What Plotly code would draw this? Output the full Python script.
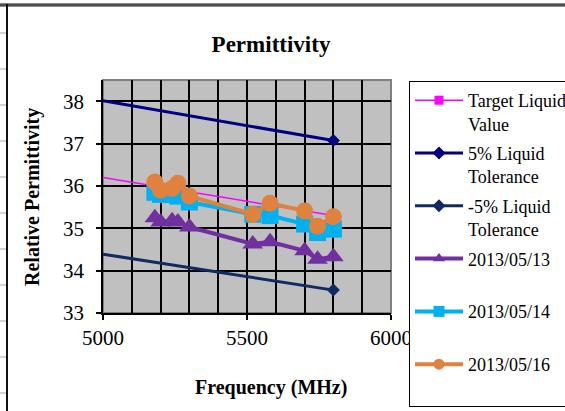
import plotly.graph_objects as go

# Reference lines (target value and +/-5% tolerance)
ref_freq = [5000, 5800]
target = [36.2, 35.3]
tol_plus = [38.01, 37.07]
tol_minus = [34.39, 33.54]

# Measured relative permittivity
freq = [5180, 5200, 5240, 5260, 5300, 5520, 5580, 5700, 5745, 5800]
eps_0513 = [35.25, 35.15, 35.18, 35.15, 35.03, 34.63, 34.68, 34.47, 34.27, 34.33]
eps_0514 = [35.85, 35.80, 35.80, 35.76, 35.62, 35.33, 35.30, 35.10, 34.90, 34.98]
eps_0516 = [36.09, 35.90, 35.94, 36.06, 35.76, 35.33, 35.59, 35.41, 35.05, 35.27]

x_ticks = [5000, 5500, 6000]
y_ticks = [33, 34, 35, 36, 37, 38]

SERIF = "Liberation Serif"
W, H = 565, 411
L, R, T, B = 103, 174, 80, 98
PW, PH = W - L - R, H - T - B


def px(x):
    return (x - L) / PW


def py(y):
    return (H - B - y) / PH


def ref_trace(y, name, color, symbol, width, size):
    # marker only on the last point; legend keeps the plain marker style
    return go.Scatter(
        x=ref_freq, y=y, name=name, mode="lines+markers",
        line=dict(color=color, width=width),
        marker=dict(symbol=symbol, size=size, color=color),
        selectedpoints=[len(ref_freq) - 1],
        selected=dict(marker=dict(opacity=1)),
        unselected=dict(marker=dict(opacity=0)),
    )


def data_trace(y, name, color, symbol, size):
    # smaller symbol in the legend, full-size symbol on the points
    return go.Scatter(
        x=freq, y=y, name=name, mode="lines+markers",
        line=dict(color=color, width=4),
        marker=dict(symbol=symbol, size=11, color=color),
        selectedpoints=list(range(len(freq))),
        selected=dict(marker=dict(size=size, opacity=1)),
    )


fig = go.Figure()
fig.add_trace(ref_trace(target, "Target Liquid<br>Value", "#FF00FF", "square", 1.5, 9))
fig.add_trace(ref_trace(tol_plus, "5% Liquid<br>Tolerance", "#000080", "diamond", 3, 10))
fig.add_trace(ref_trace(tol_minus, "-5% Liquid<br>Tolerance", "#102A63", "diamond", 3, 10))
fig.add_trace(data_trace(eps_0513, "2013/05/13<br> ", "#7030A0", "triangle-up", 18))
fig.add_trace(data_trace(eps_0514, "2013/05/14<br> ", "#00B0F0", "square", 17))
fig.add_trace(data_trace(eps_0516, "2013/05/16<br> ", "#E0823D", "circle", 17))

for i, tr in enumerate(fig.data):
    tr.legendgroup = f"g{i}"

fig.update_xaxes(
    range=[5000, 6000], tickvals=x_ticks, ticks="outside", ticklen=5,
    tickcolor="black", tickwidth=1.5,
    showline=True, linecolor="black", linewidth=1.5,
    showgrid=True, gridcolor="black", gridwidth=1.5,
    minor=dict(dtick=100, showgrid=True, gridcolor="black", gridwidth=1.5),
    tickfont=dict(family=SERIF, size=21, color="black"),
    zeroline=False,
)
fig.update_yaxes(
    range=[33, 38.5], tickvals=y_ticks, ticks="outside", ticklen=5,
    tickcolor="black", tickwidth=1.5,
    showline=True, linecolor="black", linewidth=1.5,
    showgrid=True, gridcolor="black", gridwidth=1.5,
    tickfont=dict(family=SERIF, size=21, color="black"),
    ticklabelstandoff=8,
    zeroline=False,
)

shapes = [
    # plot-area border (top and right in grey)
    dict(type="rect", xref="paper", yref="paper", x0=0, x1=1, y0=0, y1=1,
         line=dict(color="#808080", width=2), layer="below"),
    # chart frame
    dict(type="line", xref="paper", yref="paper", x0=px(0), x1=px(W),
         y0=py(5), y1=py(5), line=dict(color="#111111", width=3)),
    dict(type="line", xref="paper", yref="paper", x0=px(0), x1=px(W),
         y0=py(5), y1=py(5), line=dict(color="#909090", width=1)),
    dict(type="line", xref="paper", yref="paper", x0=px(7), x1=px(7),
         y0=py(4), y1=py(H), line=dict(color="#111111", width=2)),
]
for yy in range(33, H, 36):
    shapes.append(dict(type="line", xref="paper", yref="paper",
                       x0=px(0), x1=px(6), y0=py(yy), y1=py(yy),
                       line=dict(color="#D4D4D4", width=2)))

annotations = [
    dict(text="<b>Frequency (MHz)</b>", xref="paper", yref="paper",
         x=px(271), y=py(387), xanchor="center", yanchor="middle",
         showarrow=False, font=dict(family=SERIF, size=20, color="black")),
    dict(text="<b>Relative Permittivity</b>", xref="paper", yref="paper",
         x=px(32), y=py(197), xanchor="center", yanchor="middle", textangle=-90,
         showarrow=False, font=dict(family=SERIF, size=20, color="black")),
]

fig.update_layout(
    width=W, height=H,
    margin=dict(l=L, r=R, t=T, b=B, autoexpand=False),
    paper_bgcolor="white", plot_bgcolor="#C0C0C0",
    title=dict(text="<b>Permittivity</b>", x=px(271), xref="paper", xanchor="center",
               y=1 - 44 / H, yref="container", yanchor="middle",
               font=dict(family=SERIF, size=23, color="black")),
    shapes=shapes, annotations=annotations,
    showlegend=True,
    legend=dict(x=px(409), y=py(81), xanchor="left", yanchor="top",
                bgcolor="white", bordercolor="black", borderwidth=1,
                font=dict(family=SERIF, size=18, color="black"),
                valign="top", itemwidth=48, tracegroupgap=3,
                traceorder="grouped", maxheight=400),
)

fig.write_html("out.html")
